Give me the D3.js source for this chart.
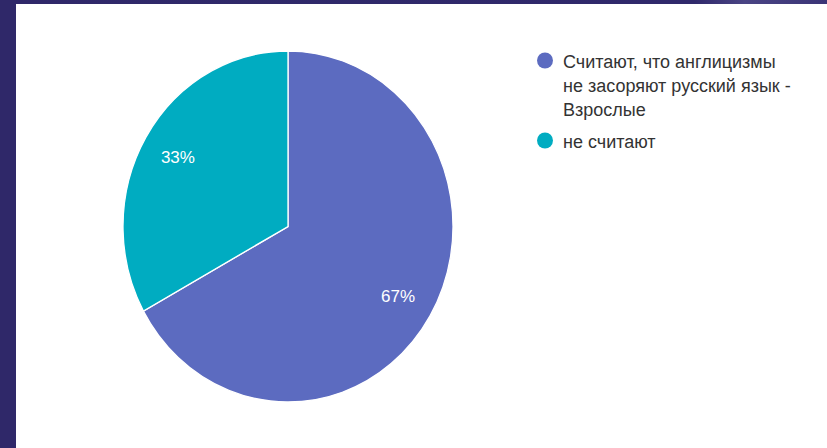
<!DOCTYPE html>
<html>
<head>
<meta charset="utf-8">
<script src="https://cdn.jsdelivr.net/npm/d3@7"></script>
<style>
  html, body { margin: 0; padding: 0; background: #ffffff; }
  svg { display: block; }
</style>
</head>
<body>
<svg id="chart" width="827" height="448"></svg>
<script>
// Survey answers: adults on whether anglicisms clutter the Russian language
const categories = [
  ["Считают, что англицизмы", "не засоряют русский язык -", "Взрослые"],
  ["не считают"]
];
const values = [67, 33];
const colors = ["#5c6bc0", "#00acc1"];

const svg = d3.select("#chart");
const W = 827, H = 448;

// Slide frame: dark strip on the left and along the top
const defs = svg.append("defs");
const grad = defs.append("linearGradient").attr("id", "topStrip")
  .attr("x1", "0%").attr("x2", "100%");
grad.append("stop").attr("offset", "0%").attr("stop-color", "#2f2869");
grad.append("stop").attr("offset", "84%").attr("stop-color", "#30296b");
grad.append("stop").attr("offset", "90%").attr("stop-color", "#4a4484");
grad.append("stop").attr("offset", "100%").attr("stop-color", "#3a3476");

svg.append("rect").attr("x", 0).attr("y", 0).attr("width", W).attr("height", H).attr("fill", "#ffffff");
svg.append("rect").attr("x", 0).attr("y", 0).attr("width", W).attr("height", 4).attr("fill", "url(#topStrip)");
svg.append("rect").attr("x", 0).attr("y", 0).attr("width", 16).attr("height", H).attr("fill", "#2f2869");

// Pie (drawn slightly taller than wide)
const cx = 288, cy = 226.5, r = 165, sy = 1.064;
const pie = d3.pie().sort(null).value(d => d)(values);
const arc = d3.arc().innerRadius(0).outerRadius(r);
const labelArc = d3.arc().innerRadius(r * 0.775).outerRadius(r * 0.775);

const g = svg.append("g").attr("transform", `translate(${cx},${cy}) scale(1,${sy})`);
g.selectAll("path").data(pie).join("path")
  .attr("d", arc)
  .attr("fill", (d, i) => colors[i])
  .attr("stroke", "#ffffff")
  .attr("stroke-width", 1.3);

const total = d3.sum(values);
svg.append("g").selectAll("text").data(pie).join("text")
  .attr("x", d => cx + labelArc.centroid(d)[0])
  .attr("y", d => cy + labelArc.centroid(d)[1] * sy)
  .attr("dy", "0.36em")
  .attr("text-anchor", "middle")
  .attr("font-family", "'Liberation Sans', Arial, sans-serif")
  .attr("font-size", 17)
  .attr("fill", "#ffffff")
  .text(d => Math.round(d.value / total * 100) + "%");

// Legend
const legend = svg.append("g").attr("font-family", "'Liberation Sans', Arial, sans-serif")
  .attr("font-size", 18).attr("fill", "#333333");
const lineH = 24;
const itemTops = [68, 148];
categories.forEach((lines, i) => {
  legend.append("circle")
    .attr("cx", 545).attr("cy", itemTops[i] - 7.5).attr("r", 8)
    .attr("fill", colors[i]);
  const t = legend.append("text").attr("x", 563).attr("y", itemTops[i]);
  lines.forEach((ln, j) => {
    t.append("tspan").attr("x", 563).attr("y", itemTops[i] + j * lineH).text(ln);
  });
});
</script>
</body>
</html>
